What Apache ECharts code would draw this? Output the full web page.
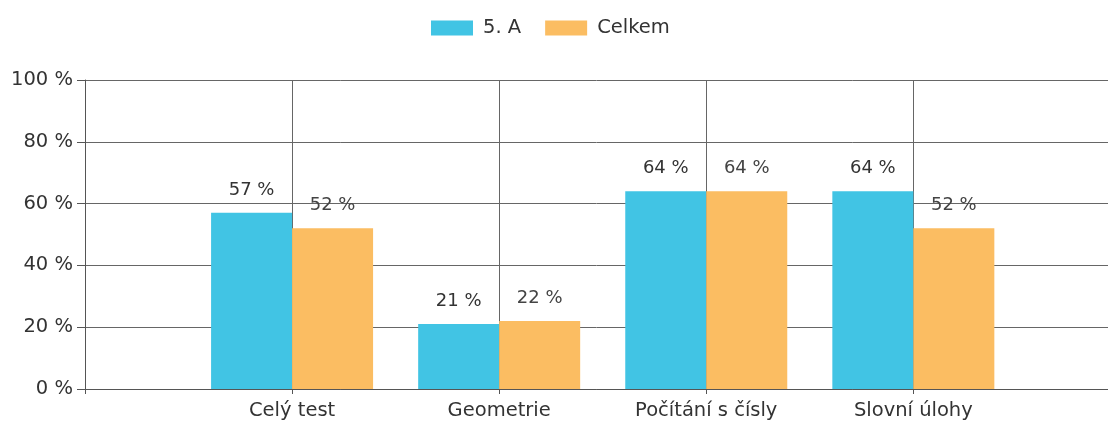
<!DOCTYPE html>
<html>
<head>
<meta charset="utf-8">
<script src="https://cdn.jsdelivr.net/npm/echarts@6/dist/echarts.min.js"></script>
<style>
  html, body { margin: 0; padding: 0; background: #fff; }
  #chart { width: 1108px; height: 423px; }
</style>
</head>
<body>
<div id="chart"></div>
<script>
// categories (empty first slot so the bars sit on the grid lines)
const categories = ['', 'Celý test', 'Geometrie', 'Počítání s čísly', 'Slovní úlohy']
const trida = [null, 57, 21, 64, 64]
const celkem = [null, 52, 22, 64, 52]

const font = '"DejaVu Sans", sans-serif'

// bars placed at category index on a value axis
const toPoints = arr => arr.map((v, i) => (v == null ? null : [i, v])).filter(p => p)

const option = {
  animation: false,
  backgroundColor: '#fff',
  textStyle: { fontFamily: font },
  legend: {
    top: 13,
    left: 426,
    itemWidth: 42,
    itemHeight: 15,
    itemGap: 24,
    icon: 'rect',
    textStyle: { fontSize: 19.5, color: '#333', fontFamily: font, padding: [0, 0, 0, 5] },
    data: ['5. A', 'Celkem']
  },
  grid: { left: 85, right: 0, top: 80, bottom: 34 },
  xAxis: {
    type: 'value',
    min: 0,
    max: 4.94,
    interval: 1,
    axisLine: { show: true, lineStyle: { color: '#555', width: 1 } },
    axisTick: { show: true, length: 5, lineStyle: { color: '#555' } },
    axisLabel: {
      fontSize: 19.5, color: '#333', margin: 12, fontFamily: font,
      showMaxLabel: false,
      formatter: v => categories[Math.round(v)] || ''
    },
    splitLine: { show: true, lineStyle: { color: '#666', width: 1 } }
  },
  yAxis: {
    type: 'value',
    min: 0,
    max: 100,
    interval: 20,
    axisLine: { show: true, lineStyle: { color: '#555' } },
    axisTick: { show: true, length: 8, lineStyle: { color: '#555' } },
    axisLabel: { fontSize: 19.5, color: '#333', margin: 12, formatter: '{value} %', fontFamily: font },
    splitLine: { lineStyle: { color: '#666', width: 1 } }
  },
  series: [
    {
      name: '5. A',
      type: 'bar',
      data: toPoints(trida),
      barWidth: 81,
      barGap: '0%',
      itemStyle: { color: '#41c4e4' },
      label: { show: true, position: 'top', distance: 14, formatter: p => p.value[1] + ' %', fontSize: 18, color: '#333', fontFamily: font }
    },
    {
      name: 'Celkem',
      type: 'bar',
      data: toPoints(celkem),
      barWidth: 81,
      itemStyle: { color: '#fbbd62' },
      label: { show: true, position: 'top', distance: 14, formatter: p => p.value[1] + ' %', fontSize: 18, color: '#444', fontFamily: font }
    }
  ]
}

const E = echarts.init(document.getElementById('chart'))
E.setOption(option)
</script>
</body>
</html>
